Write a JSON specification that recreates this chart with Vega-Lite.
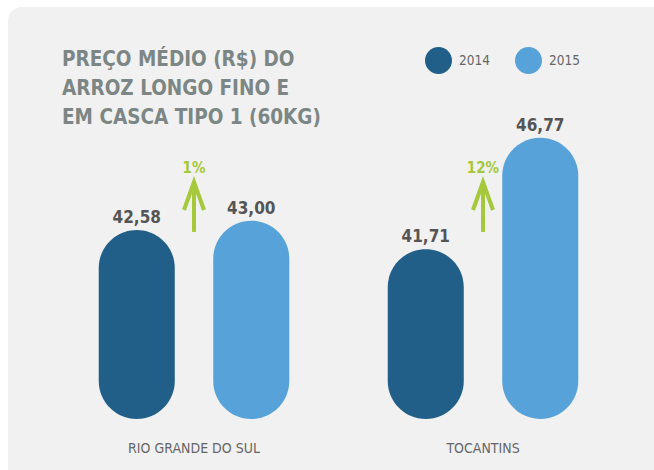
{
  "$schema": "https://vega.github.io/schema/vega-lite/v6.json",
  "width": 660,
  "height": 475,
  "autosize": {"type": "none"},
  "padding": {"left": 8, "top": 7, "right": 0, "bottom": 0},
  "background": "#ffffff",
  "title": {
    "text": ["PREÇO MÉDIO (R$) DO", "ARROZ LONGO FINO E", "EM CASCA TIPO 1 (60KG)"],
    "anchor": "start",
    "frame": "group",
    "orient": "top",
    "baseline": "top",
    "offset": 0,
    "dx": 54,
    "dy": 121,
    "font": "DejaVu Sans Condensed",
    "fontWeight": "bold",
    "fontSize": 20.5,
    "lineHeight": 29,
    "color": "#7c8684"
  },
  "datasets": {
    "prices": [
      {"region": "RIO GRANDE DO SUL", "year": "2014", "value": 42.58, "label": "42,58"},
      {"region": "RIO GRANDE DO SUL", "year": "2015", "value": 43.00, "label": "43,00"},
      {"region": "TOCANTINS", "year": "2014", "value": 41.71, "label": "41,71"},
      {"region": "TOCANTINS", "year": "2015", "value": 46.77, "label": "46,77"}
    ],
    "changes": [
      {"region": "RIO GRANDE DO SUL", "change": "1%"},
      {"region": "TOCANTINS", "change": "12%"}
    ]
  },
  "layer": [
    {
      "data": {"name": "prices"},
      "mark": {"type": "bar", "cornerRadius": 38},
      "encoding": {
        "x": {
          "field": "region", "type": "nominal", "sort": null,
          "scale": {"range": [41.5, 619.5], "paddingInner": 0, "paddingOuter": 0},
          "axis": {
            "orient": "bottom", "offset": -42, "domain": false, "ticks": false,
            "labelPadding": 8, "labelBaseline": "middle", "labelAngle": 0,
            "labelFont": "DejaVu Sans Condensed", "labelFontSize": 14,
            "labelColor": "#666666", "title": null
          }
        },
        "xOffset": {
          "field": "year", "type": "nominal",
          "scale": {"paddingInner": 0.336, "paddingOuter": 0.43}
        },
        "y": {
          "field": "value", "type": "quantitative",
          "scale": {"domain": [34, 52.7], "range": [412, 0], "zero": false, "nice": false},
          "axis": null
        },
        "y2": {"datum": 34},
        "color": {
          "field": "year", "type": "nominal",
          "scale": {"domain": ["2014", "2015"], "range": ["#215f89", "#57a2d9"]},
          "legend": {
            "title": null, "orient": "none", "legendX": 417, "legendY": 40,
            "direction": "horizontal", "symbolType": "circle", "symbolSize": 729,
            "symbolStrokeWidth": 0, "symbolOpacity": 1,
            "labelFont": "DejaVu Sans Condensed", "labelFontSize": 13.5,
            "labelColor": "#666666", "labelOffset": 7, "columnPadding": 25
          }
        }
      }
    },
    {
      "data": {"name": "prices"},
      "mark": {"type": "text", "dy": -12, "font": "DejaVu Sans Condensed", "fontWeight": "bold", "fontSize": 17, "color": "#555555"},
      "encoding": {
        "x": {"field": "region", "type": "nominal", "sort": null},
        "xOffset": {"field": "year", "type": "nominal"},
        "y": {"field": "value", "type": "quantitative"},
        "text": {"field": "label"}
      }
    },
    {
      "data": {"name": "changes"},
      "mark": {"type": "rule", "color": "#a5c93b", "strokeWidth": 4},
      "encoding": {
        "x": {"field": "region", "type": "nominal", "sort": null},
        "y": {"datum": 42.49},
        "y2": {"datum": 44.7}
      }
    },
    {
      "data": {"name": "changes"},
      "mark": {"type": "point", "shape": "M -0.714 1 L 0 -1 L 0.714 1", "filled": false, "size": 784, "stroke": "#a5c93b", "strokeWidth": 4, "opacity": 1, "strokeJoin": "miter"},
      "encoding": {
        "x": {"field": "region", "type": "nominal", "sort": null},
        "y": {"datum": 44.12}
      }
    },
    {
      "data": {"name": "changes"},
      "mark": {"type": "text", "baseline": "middle", "font": "DejaVu Sans Condensed", "fontWeight": "bold", "fontSize": 15, "color": "#a5c93b"},
      "encoding": {
        "x": {"field": "region", "type": "nominal", "sort": null},
        "y": {"datum": 45.39},
        "text": {"field": "change"}
      }
    }
  ],
  "config": {
    "view": {"fill": "#f1f1f1", "stroke": null, "cornerRadius": 14}
  }
}
